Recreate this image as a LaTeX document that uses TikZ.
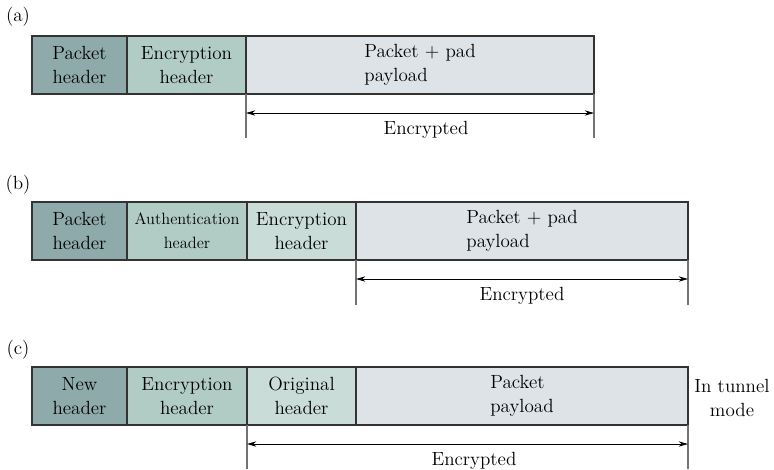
\documentclass[tikz,border=0pt]{standalone}
\usetikzlibrary{arrows.meta}
\definecolor{hdrdark}{RGB}{143,170,170}
\definecolor{hdrmid}{RGB}{177,203,197}
\definecolor{hdrlight}{RGB}{202,220,216}
\definecolor{paycol}{RGB}{221,227,230}
\definecolor{edgecol}{RGB}{51,51,51}

\begin{document}
\begin{tikzpicture}[x=0.75pt,y=0.75pt,yscale=-1,xscale=1,
  field/.style={draw=edgecol, line width=1.1pt, anchor=north west, inner sep=0pt, outer sep=0pt,
    minimum height=58*0.75pt, align=center, font=\fontsize{14.3}{18.3}\selectfont},
  payfield/.style={field, fill=paycol, align=left},
  tick/.style={draw=black!55, line width=0.8pt},
  span/.style={draw=black, line width=0.6pt, {Stealth[length=7pt,width=4pt]}-{Stealth[length=7pt,width=4pt]}},
  caption/.style={inner sep=0.75pt, font=\fontsize{14.3}{18.3}\selectfont, align=center}]
\useasboundingbox (0,0) rectangle (774,469);

% (a) transport mode, encryption only
\node[caption] (la) at (18,17) {(a)};
\node[field, fill=hdrdark, minimum width=95*0.75pt] (a1) at (32,36) {Packet\\header};
\node[field, fill=hdrmid, minimum width=119*0.75pt] (a2) at (127,36) {Encryption\\header};
\node[payfield, minimum width=348*0.75pt] (a3) at (246,36) {Packet + pad\\payload};
\draw[tick] (a3.south west) -- ++(0,44);
\draw[tick] (a3.south east) -- ++(0,44);
\path (a3.south west) ++(0,19) coordinate (ea-l);
\path (a3.south east) ++(0,19) coordinate (ea-r);
\draw[span] (ea-l) -- (ea-r);
\node[caption] (ea-t) at (426,130) {Encrypted};

% (b) authentication plus encryption
\node[caption] (lb) at (18,185) {(b)};
\node[field, fill=hdrdark, minimum width=95*0.75pt] (b1) at (32,202) {Packet\\header};
\node[field, fill=hdrmid, minimum width=120*0.75pt, font=\fontsize{12.3}{18.3}\selectfont] (b2) at (127,202) {Authentication\\header};
\node[field, fill=hdrlight, minimum width=109*0.75pt] (b3) at (247,202) {Encryption\\header};
\node[payfield, minimum width=332*0.75pt] (b4) at (356,202) {Packet + pad\\payload};
\draw[tick] (b4.south west) -- ++(0,45);
\draw[tick] (b4.south east) -- ++(0,45);
\path (b4.south west) ++(0,19) coordinate (eb-l);
\path (b4.south east) ++(0,19) coordinate (eb-r);
\draw[span] (eb-l) -- (eb-r);
\node[caption] (eb-t) at (522,296) {Encrypted};

% (c) tunnel mode
\node[caption] (lc) at (18,350) {(c)};
\node[field, fill=hdrdark, minimum width=95*0.75pt] (c1) at (32,367) {New\\header};
\node[field, fill=hdrmid, minimum width=120*0.75pt] (c2) at (127,367) {Encryption\\header};
\node[field, fill=hdrlight, minimum width=109*0.75pt] (c3) at (247,367) {Original\\header};
\node[payfield, minimum width=332*0.75pt] (c4) at (356,367) {Packet\\payload};
\node[caption] (mode) at (732,398) {In tunnel\\mode};
\draw[tick] (c3.south west) -- ++(0,44);
\draw[tick] (c4.south east) -- ++(0,44);
\path (c3.south west) ++(0,19) coordinate (ec-l);
\path (c4.south east) ++(0,19) coordinate (ec-r);
\draw[span] (ec-l) -- (ec-r);
\node[caption] (ec-t) at (474,461) {Encrypted};

\end{tikzpicture}
\end{document}
